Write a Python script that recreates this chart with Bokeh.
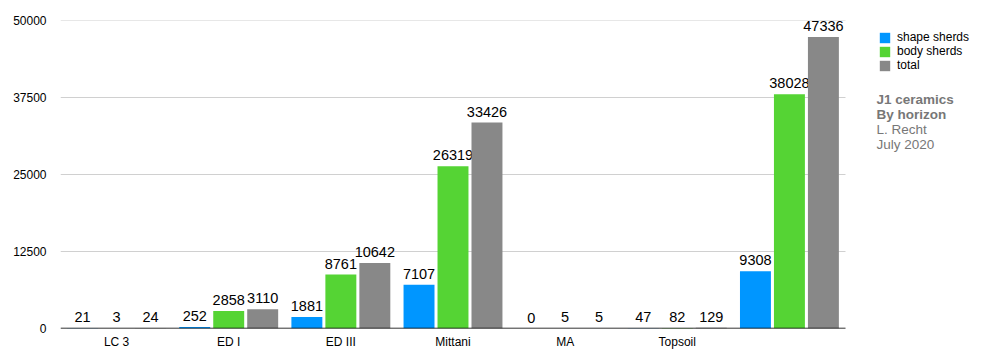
from bokeh.plotting import figure
from bokeh.models import ColumnDataSource, FixedTicker, Legend, LegendItem, Label, Range1d
from bokeh.embed import file_html
from bokeh.resources import INLINE
from bokeh.core.properties import value

categories = ["LC 3", "ED I", "ED III", "Mittani", "MA", "Topsoil", ""]
shape_sherds = [21, 252, 1881, 7107, 0, 47, 9308]
body_sherds = [3, 2858, 8761, 26319, 5, 82, 38028]
total = [24, 3110, 10642, 33426, 5, 129, 47336]
y_ticks = [0, 12500, 25000, 37500, 50000]
series_names = ["shape sherds", "body sherds", "total"]
colors = ["#0096FF", "#55D434", "#888888"]
notes = ["J1 ceramics", "By horizon", "L. Recht", "July 2020"]

FONT = "Liberation Sans"
W, H = 984, 362
FRAME_L, FRAME_TOP, FRAME_BOTTOM = 60, 20, 328
GROUP_PX = 785 / 7.0          # width of one category group in px
n = len(categories)
x_end = -0.5 + (W - FRAME_L) / GROUP_PX

p = figure(width=W, height=H, output_backend="svg", toolbar_location=None,
           x_range=Range1d(-0.5, x_end), y_range=Range1d(0, 50000),
           min_border_left=FRAME_L, min_border_right=0, min_border_top=FRAME_TOP,
           min_border_bottom=H - FRAME_BOTTOM)
p.outline_line_color = None
p.background_fill_color = "white"

# gridlines limited to the category area
p.xgrid.grid_line_color = None
p.ygrid.grid_line_color = None
p.segment(x0=[-0.5] * len(y_ticks), x1=[n - 0.5] * len(y_ticks), y0=y_ticks, y1=y_ticks,
          line_color="#d0d0d0", line_width=1)

idx = list(range(n))
offsets = [-0.303, 0.0, 0.303]
width = 0.276
renderers = []
for name, vals, off, col in zip(series_names, [shape_sherds, body_sherds, total], offsets, colors):
    xs = [i + off for i in idx]
    src = ColumnDataSource(dict(x=xs, top=vals, lab=[str(v) for v in vals]))
    r = p.vbar(x="x", top="top", width=width, source=src, fill_color=col, line_color=None)
    renderers.append(r)
    p.text(x="x", y="top", text="lab", source=src, text_align="center", text_baseline="bottom",
           y_offset=-6, text_font=value(FONT), text_font_size="14.5px", text_color="#000000")

# baseline axis line
p.segment(x0=[-0.5], x1=[n - 0.5], y0=[0], y1=[0], line_color="#000000", line_width=1.5)

# axes
p.xaxis.ticker = FixedTicker(ticks=idx)
p.xaxis.major_label_overrides = {i: c for i, c in enumerate(categories)}
p.xaxis.major_tick_line_color = None
p.xaxis.major_tick_out = 0
p.xaxis.major_tick_in = 0
p.xaxis.minor_tick_line_color = None
p.xaxis.axis_line_color = None
p.xaxis.major_label_text_font = FONT
p.xaxis.major_label_text_font_size = "12px"
p.xaxis.major_label_text_color = "#000000"
p.xaxis.major_label_standoff = 6

p.yaxis.ticker = FixedTicker(ticks=y_ticks)
p.yaxis.major_label_overrides = {t: str(t) for t in y_ticks}
p.yaxis.axis_line_color = None
p.yaxis.major_tick_line_color = None
p.yaxis.minor_tick_line_color = None
p.yaxis.major_label_text_font = FONT
p.yaxis.major_label_text_font_size = "12px"
p.yaxis.major_label_text_color = "#000000"
p.yaxis.major_label_standoff = 8

legend = Legend(items=[LegendItem(label=s, renderers=[r]) for s, r in zip(series_names, renderers)],
                location=(878 - FRAME_L, 256), orientation="vertical",
                glyph_width=13, glyph_height=13, label_height=11, spacing=-1,
                label_standoff=6, padding=0, margin=0,
                border_line_color=None, background_fill_alpha=0,
                label_text_font=FONT, label_text_font_size="12px", label_text_color="#000000")
p.add_layout(legend)

px_y = (FRAME_BOTTOM - FRAME_TOP) / 50000.0
def dx(page_x):
    return (page_x - FRAME_L) / GROUP_PX - 0.5
def dy(page_y):
    return (FRAME_BOTTOM - page_y) / px_y

for k, t in enumerate(notes):
    p.add_layout(Label(x=dx(876), y=dy(99 + 15 * k), text=t, text_font=FONT, text_font_size="13.5px",
                       text_color="#777777", text_font_style="bold" if k < 2 else "normal",
                       text_baseline="middle", text_align="left"))

open("out.html", "w").write(file_html(p, INLINE))
